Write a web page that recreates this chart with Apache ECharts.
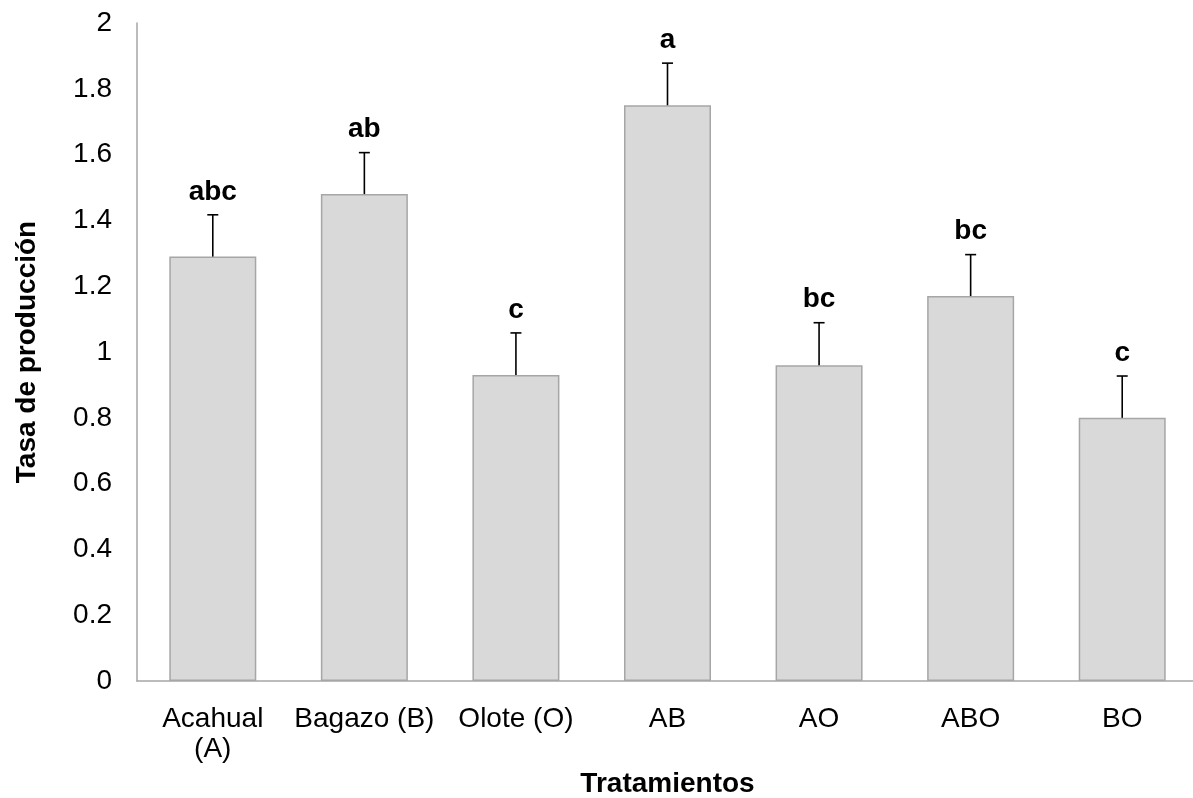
<!DOCTYPE html>
<html>
<head>
<meta charset="utf-8">
<script src="https://cdn.jsdelivr.net/npm/echarts@6/dist/echarts.min.js"></script>
<style>
html,body{margin:0;padding:0;background:#fff;}
#chart{width:1193px;height:798px;}
</style>
</head>
<body>
<div id="chart"></div>
<script>
var categories = ['Acahual\n(A)', 'Bagazo (B)', 'Olote (O)', 'AB', 'AO', 'ABO', 'BO'];
var values = [1.29, 1.48, 0.93, 1.75, 0.96, 1.17, 0.80];
var errors = [0.127, 0.126, 0.128, 0.128, 0.129, 0.126, 0.127];
var letters = ['abc', 'ab', 'c', 'a', 'bc', 'bc', 'c'];

var FONT = '"Liberation Sans", Arial, Helvetica, sans-serif';
var chart = echarts.init(document.getElementById('chart'));

var errData = values.map(function (v, i) { return [i, v, errors[i], letters[i]]; });

chart.setOption({
  animation: false,
  backgroundColor: '#ffffff',
  grid: { left: 137, top: 23, width: 1061, height: 658, containLabel: false, outerBoundsMode: 'none' },
  xAxis: {
    type: 'category',
    data: categories,
    name: 'Tratamientos',
    nameLocation: 'middle',
    nameGap: 89,
    nameTextStyle: { fontFamily: FONT, fontSize: 28, fontWeight: 'bold', color: '#000' },
    axisLine: { lineStyle: { color: '#a6a6a6', width: 1.5 } },
    axisTick: { show: false },
    axisLabel: { fontFamily: FONT, fontSize: 28, color: '#000', margin: 23, lineHeight: 30, interval: 0 }
  },
  yAxis: {
    type: 'value',
    min: 0,
    max: 2,
    interval: 0.2,
    name: 'Tasa de producción',
    nameLocation: 'middle',
    nameGap: 96,
    nameTextStyle: { fontFamily: FONT, fontSize: 28, fontWeight: 'bold', color: '#000' },
    axisLine: { show: true, lineStyle: { color: '#a6a6a6', width: 1.5 } },
    axisTick: { show: false },
    splitLine: { show: false },
    axisLabel: { fontFamily: FONT, fontSize: 28, color: '#000', margin: 25 }
  },
  series: [
    {
      type: 'bar',
      data: values,
      barWidth: 87,
      itemStyle: { color: '#d9d9d9', borderColor: '#a6a6a6', borderWidth: 1.5 },
      z: 2
    },
    {
      type: 'custom',
      data: errData,
      z: 3,
      renderItem: function (params, api) {
        var i = api.value(0);
        var v = api.value(1);
        var e = api.value(2);
        var base = api.coord([i, v]);
        var top = api.coord([i, v + e]);
        var x = base[0];
        return {
          type: 'group',
          children: [
            { type: 'line', shape: { x1: x, y1: base[1], x2: x, y2: top[1] }, style: { stroke: '#000', lineWidth: 1.6 } },
            { type: 'line', shape: { x1: x - 5.5, y1: top[1], x2: x + 5.5, y2: top[1] }, style: { stroke: '#000', lineWidth: 1.6 } },
            { type: 'text', x: x, y: top[1] - 9, style: { text: letters[params.dataIndex], fill: '#000', font: 'bold 28px ' + FONT, align: 'center', verticalAlign: 'bottom' } }
          ]
        };
      }
    }
  ]
});
</script>
</body>
</html>
